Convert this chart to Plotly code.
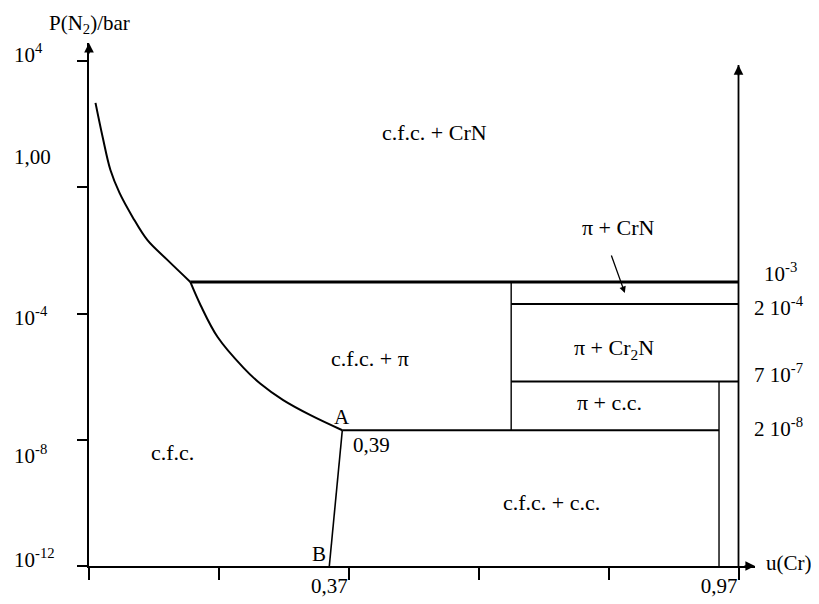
import numpy as np
import plotly.graph_objects as go

# boundary c.f.c. / c.f.c. + CrN (u(Cr), P(N2) in bar)
cfc_crn_u = [0.010, 0.021, 0.033, 0.047, 0.067, 0.090, 0.121, 0.156]
cfc_crn_p = [470, 39, 3.5, 0.66, 0.115, 0.021, 0.0049, 1e-3]

# boundary c.f.c. / c.f.c. + pi, down to point A
cfc_pi_u = [0.156, 0.172, 0.198, 0.238, 0.264, 0.299, 0.341, 0.39]
cfc_pi_p = [1e-3, 1.8e-4, 1.8e-5, 1.9e-6, 5.9e-7, 1.8e-7, 6.0e-8, 2e-8]

# A -> B
ab_u = [0.39, 0.37]
ab_p = [2e-8, 1e-12]

# three-phase plateaus
plateau_p = [1e-3, 2e-4, 7e-7, 2e-8]
plateau_u_start = [0.156, 0.65, 0.65, 0.39]
plateau_u_end = [1.0, 1.0, 1.0, 0.97]
plateau_text = ["10<sup>-3</sup>", "2 10<sup>-4</sup>", "7 10<sup>-7</sup>", "2 10<sup>-8</sup>"]

# vertical boundaries
pi_edge_u = [0.65, 0.65]
pi_edge_p = [2e-8, 1e-3]
cc_edge_u = [0.97, 0.97]
cc_edge_p = [1e-12, 7e-7]

# axes
y_tick_p = [1e4, 1, 1e-4, 1e-8, 1e-12]
y_tick_text = ["10<sup>4</sup>", "1,00", "10<sup>-4</sup>", "10<sup>-8</sup>", "10<sup>-12</sup>"]
x_tick_u = [0, 0.2, 0.4, 0.6, 0.8, 1.0]
x_label_u = [0.37, 0.97]
x_label_text = ["0,37", "0,97"]

region_text = ["c.f.c. + CrN", "π + CrN", "c.f.c. + π", "π + Cr<sub>2</sub>N",
               "π + c.c.", "c.f.c.", "c.f.c. + c.c."]

FAM = "Liberation Serif, Times New Roman, serif"
FONT = dict(family=FAM, size=21, color="black")
BIG = dict(family=FAM, size=22, color="black")
lg = np.log10

fig = go.Figure()


def line(u, p, w=2, shape="linear"):
    fig.add_trace(go.Scatter(x=u, y=p, mode="lines",
                             line=dict(color="black", width=w, shape=shape),
                             hoverinfo="skip", showlegend=False, cliponaxis=False))


line(cfc_crn_u, cfc_crn_p, 2, "spline")
line(cfc_pi_u, cfc_pi_p, 2, "spline")
line(ab_u, ab_p, 1.6)
for p, u0, u1 in zip(plateau_p, plateau_u_start, plateau_u_end):
    line([u0, u1], [p, p], 3 if p == plateau_p[0] else 2)
line(pi_edge_u, pi_edge_p, 1.4)
line(cc_edge_u, cc_edge_p, 1.4)
# right-hand axis (pure Cr)
line([1.0, 1.0], [1e-12, 10 ** 3.87], 1.8)

ann = []
# region labels (u, log P)
region_pos = [(0.532, 1.75), (0.815, -1.29), (0.432, -5.41), (0.808, -5.13),
              (0.801, -6.81), (0.1285, -8.4), (0.712, -10.0)]
for t, (u, y) in zip(region_text, region_pos):
    ann.append(dict(x=u, y=y, text=t, showarrow=False, font=BIG))

# pressures on the right (paper x, data y)
shifts = [9, -3, 8, 3]
xs = [1.0105, 0.9955, 0.9955, 0.9955]
for p, t, ys, xx in zip(plateau_p, plateau_text, shifts, xs):
    ann.append(dict(x=xx, xref="paper", y=lg(p), text=t, showarrow=False,
                    xanchor="left", yanchor="middle", yshift=ys))

# left tick labels
tick_y = [4.25, 0.96, -4.08, -8.48, -11.75]
for t, y in zip(y_tick_text, tick_y):
    ann.append(dict(x=-0.1156, xref="paper", y=y, text=t, showarrow=False,
                    xanchor="left", yanchor="middle"))

# points A and B
ann += [
    dict(x=ab_u[0], y=lg(ab_p[0]), text="A", showarrow=False, yshift=13),
    dict(x=ab_u[0], y=lg(ab_p[0]), text="0,39", showarrow=False, xanchor="left",
         xshift=9, yshift=-15),
    dict(x=ab_u[1], y=lg(ab_p[1]), text="B", showarrow=False, xshift=-10, yshift=12),
]

# axis titles
ann += [
    dict(x=0.0015, xref="paper", y=1.036, yref="paper", text="P(N<sub>2</sub>)/bar",
         showarrow=False, xanchor="center", yanchor="middle"),
    dict(x=1.051, xref="paper", y=0.0057, yref="paper", text="u(Cr)",
         showarrow=False, xanchor="center", yanchor="middle"),
]

# arrow pointing into the pi + CrN band
ann.append(dict(x=0.825, y=-3.35, ax=-14, ay=-39, text="", showarrow=True,
                arrowhead=2, arrowsize=1, arrowwidth=1.3, arrowcolor="black"))

# arrow heads of the axes
ann += [
    dict(x=0, y=4.57, ax=0, ay=12, text="", showarrow=True, arrowhead=2,
         arrowsize=1.2, arrowwidth=1.6, arrowcolor="black"),
    dict(x=1.0, y=3.87, ax=0, ay=12, text="", showarrow=True, arrowhead=2,
         arrowsize=1.2, arrowwidth=1.6, arrowcolor="black"),
    dict(x=1.0254, y=-12, ax=-12, ay=0, text="", showarrow=True, arrowhead=2,
         arrowsize=1.2, arrowwidth=1.6, arrowcolor="black"),
]

for a in ann:
    a.setdefault("xref", "x")
    a.setdefault("yref", "y")
    a.setdefault("font", FONT)

# margins allow for the 8px body margin of the page
fig.update_layout(
    width=819, height=604, autosize=False,
    margin=dict(l=81, r=72, t=35, b=46),
    plot_bgcolor="white", paper_bgcolor="white",
    font=FONT,
    annotations=ann,
    xaxis=dict(
        range=[0, 1.0254], showgrid=False, zeroline=False,
        showline=True, linecolor="black", linewidth=2,
        tickmode="array", tickvals=x_label_u, ticktext=x_label_text,
        ticks="outside", ticklen=0, tickfont=FONT,
        minor=dict(tickmode="array", tickvals=x_tick_u, ticks="outside",
                   ticklen=12, tickwidth=1.6, tickcolor="black"),
    ),
    yaxis=dict(
        type="log", range=[-12, 4.57], showgrid=False, zeroline=False,
        showline=True, linecolor="black", linewidth=2,
        tickmode="array", tickvals=y_tick_p, ticktext=[""] * len(y_tick_p),
        ticks="outside", ticklen=10, tickwidth=2, tickcolor="black",
    ),
)

fig.write_html("out.html")
